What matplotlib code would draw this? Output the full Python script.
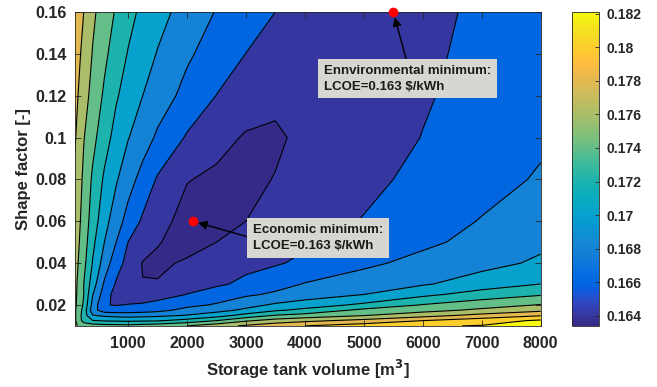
import numpy as np
import matplotlib
matplotlib.use("Agg")
import matplotlib.pyplot as plt
from matplotlib.colors import LinearSegmentedColormap, Normalize
from matplotlib.cm import ScalarMappable

# storage tank volume [m3] (columns) and shape factor [-] (rows)
volume = [100, 250, 400, 600, 800, 1000, 1250, 1500, 2000, 2500, 3000, 3500, 4000, 5000, 6000, 7000, 8000]
shape = [0.01, 0.0125, 0.015, 0.0175, 0.02, 0.025, 0.03, 0.04, 0.05, 0.06, 0.08, 0.10, 0.12, 0.14, 0.16]

# LCOE [$/kWh], one row per shape factor
lcoe = [
    [0.1763, 0.1752, 0.1750, 0.1748, 0.1747, 0.1746, 0.1749, 0.1752, 0.1760, 0.1772, 0.1783, 0.1793, 0.1800, 0.1810, 0.1818, 0.1821, 0.1833],
    [0.1763, 0.1732, 0.1721, 0.1718, 0.1717, 0.1716, 0.1717, 0.1718, 0.1727, 0.1740, 0.1757, 0.1768, 0.1775, 0.1786, 0.1800, 0.1811, 0.1823],
    [0.1763, 0.1730, 0.1701, 0.1696, 0.1693, 0.1692, 0.1693, 0.1695, 0.1701, 0.1711, 0.1727, 0.1741, 0.1747, 0.1759, 0.1772, 0.1786, 0.1798],
    [0.1763, 0.1733, 0.1688, 0.1669, 0.1668, 0.1669, 0.1671, 0.1674, 0.1686, 0.1693, 0.1704, 0.1717, 0.1725, 0.1745, 0.1753, 0.1764, 0.1775],
    [0.1764, 0.1737, 0.1694, 0.1661, 0.1659, 0.1661, 0.1663, 0.1669, 0.1675, 0.1682, 0.1693, 0.1703, 0.1710, 0.1724, 0.1741, 0.1751, 0.1761],
    [0.1765, 0.1740, 0.1701, 0.1670, 0.1652, 0.1646, 0.1646, 0.1648, 0.16605, 0.1669, 0.1677, 0.1683, 0.1689, 0.1700, 0.1715, 0.1729, 0.1738],
    [0.1766, 0.1740, 0.1710, 0.1677, 0.1658, 0.1645, 0.16405, 0.1641, 0.1650, 0.1657, 0.1664, 0.1673, 0.1681, 0.1690, 0.1698, 0.1709, 0.1720],
    [0.1768, 0.1746, 0.1719, 0.1691, 0.1668, 0.1654, 0.1639, 0.1637, 0.1642, 0.1647, 0.1655, 0.1658, 0.1664, 0.1676, 0.1686, 0.1694, 0.1703],
    [0.1770, 0.1750, 0.1725, 0.1700, 0.1680, 0.1660, 0.1651, 0.1641, 0.1634, 0.1640, 0.1645, 0.1652, 0.1657, 0.1665, 0.1676, 0.1686, 0.1696],
    [0.1773, 0.1752, 0.1731, 0.1707, 0.1689, 0.1673, 0.1657, 0.1648, 0.1632, 0.1634, 0.1640, 0.1646, 0.1651, 0.1661, 0.1671, 0.1681, 0.1691],
    [0.1777, 0.1756, 0.1737, 0.1717, 0.1702, 0.1688, 0.1673, 0.1658, 0.1641, 0.1636, 0.1637, 0.16405, 0.1646, 0.1655, 0.1665, 0.1673, 0.1682],
    [0.1782, 0.1761, 0.1746, 0.1728, 0.1713, 0.1701, 0.1689, 0.1677, 0.1658, 0.1647, 0.1638, 0.1638, 0.1643, 0.1650, 0.16605, 0.1670, 0.1677],
    [0.1786, 0.1769, 0.1753, 0.1737, 0.1722, 0.1712, 0.1700, 0.1690, 0.1674, 0.16597, 0.1651, 0.1643, 0.1642, 0.1645, 0.1658, 0.1667, 0.1674],
    [0.1789, 0.1775, 0.1759, 0.1744, 0.1731, 0.1719, 0.1709, 0.1699, 0.1683, 0.1671, 0.16598, 0.1653, 0.1648, 0.1644, 0.1657, 0.1664, 0.1671],
    [0.1795, 0.1780, 0.1764, 0.1750, 0.1738, 0.1727, 0.1715, 0.1707, 0.1692, 0.1679, 0.1670, 0.1660, 0.1653, 0.1646, 0.1654, 0.1664, 0.1668],
]

levels = [0.164, 0.166, 0.168, 0.170, 0.172, 0.174, 0.176, 0.178, 0.180, 0.182]
cbar_ticks = [0.164, 0.166, 0.168, 0.17, 0.172, 0.174, 0.176, 0.178, 0.18, 0.182]
clim = (0.1634, 0.1821)

# the two optima marked on the map
econ_min = (2100, 0.06)
env_min = (5500, 0.16)

# MATLAB parula (64 entries)
parula = [
    [0.2081, 0.1663, 0.5292], [0.2116, 0.1898, 0.5777], [0.2123, 0.2138, 0.6270], [0.2081, 0.2386, 0.6771],
    [0.1959, 0.2645, 0.7279], [0.1707, 0.2919, 0.7792], [0.1253, 0.3242, 0.8303], [0.0591, 0.3598, 0.8683],
    [0.0117, 0.3875, 0.8820], [0.0060, 0.4086, 0.8828], [0.0165, 0.4266, 0.8786], [0.0329, 0.4430, 0.8720],
    [0.0498, 0.4586, 0.8641], [0.0629, 0.4737, 0.8554], [0.0723, 0.4887, 0.8467], [0.0779, 0.5040, 0.8384],
    [0.0793, 0.5200, 0.8312], [0.0749, 0.5375, 0.8263], [0.0641, 0.5570, 0.8240], [0.0488, 0.5772, 0.8228],
    [0.0343, 0.5966, 0.8199], [0.0265, 0.6137, 0.8135], [0.0239, 0.6287, 0.8038], [0.0231, 0.6418, 0.7913],
    [0.0228, 0.6535, 0.7768], [0.0267, 0.6642, 0.7607], [0.0384, 0.6743, 0.7436], [0.0590, 0.6838, 0.7254],
    [0.0843, 0.6928, 0.7062], [0.1133, 0.7015, 0.6859], [0.1453, 0.7098, 0.6646], [0.1801, 0.7177, 0.6424],
    [0.2178, 0.7250, 0.6193], [0.2586, 0.7317, 0.5954], [0.3022, 0.7376, 0.5712], [0.3482, 0.7424, 0.5473],
    [0.3953, 0.7459, 0.5244], [0.4420, 0.7481, 0.5033], [0.4871, 0.7491, 0.4840], [0.5300, 0.7491, 0.4661],
    [0.5709, 0.7485, 0.4494], [0.6099, 0.7473, 0.4337], [0.6473, 0.7456, 0.4188], [0.6834, 0.7435, 0.4044],
    [0.7184, 0.7411, 0.3905], [0.7525, 0.7384, 0.3768], [0.7858, 0.7356, 0.3633], [0.8185, 0.7327, 0.3498],
    [0.8507, 0.7299, 0.3360], [0.8824, 0.7274, 0.3217], [0.9139, 0.7258, 0.3063], [0.9450, 0.7261, 0.2886],
    [0.9739, 0.7314, 0.2666], [0.9938, 0.7455, 0.2403], [0.9990, 0.7653, 0.2164], [0.9955, 0.7861, 0.1967],
    [0.9880, 0.8066, 0.1794], [0.9789, 0.8271, 0.1633], [0.9697, 0.8481, 0.1475], [0.9626, 0.8705, 0.1309],
    [0.9589, 0.8949, 0.1132], [0.9598, 0.9218, 0.0948], [0.9661, 0.9514, 0.0755], [0.9763, 0.9831, 0.0538],
]
cmap = LinearSegmentedColormap.from_list("parula", parula, N=256)
norm = Normalize(vmin=clim[0], vmax=clim[1])

plt.rcParams['font.family'] = ['Liberation Sans', 'DejaVu Sans']
plt.rcParams['font.weight'] = 'bold'
plt.rcParams['axes.labelweight'] = 'bold'
plt.rcParams['mathtext.default'] = 'bf'
txt = '#262626'

X, Y = np.meshgrid(volume, shape)
Z = np.array(lcoe)

fig = plt.figure(figsize=(6.57, 3.87), dpi=100)
ax = fig.add_axes([0.114, 0.158, 0.709, 0.811])
cax = fig.add_axes([0.871, 0.158, 0.041, 0.811])

# matlab fills each band with the colour of its lower level
fill_levels = [Z.min() - 0.001] + levels + [Z.max() + 0.001]
band_cols = [cmap(norm(max(l, clim[0]))) for l in fill_levels[:-1]]
ax.contourf(X, Y, Z, levels=fill_levels, colors=band_cols)
ax.contour(X, Y, Z, levels=levels, colors='k', linewidths=0.8)

ax.set_xlim(volume[0], volume[-1])
ax.set_ylim(shape[0], shape[-1])
ax.set_xticks([1000, 2000, 3000, 4000, 5000, 6000, 7000, 8000])
ax.set_yticks([0.02, 0.04, 0.06, 0.08, 0.1, 0.12, 0.14, 0.16])
ax.set_yticklabels(['0.02', '0.04', '0.06', '0.08', '0.1', '0.12', '0.14', '0.16'])
ax.tick_params(direction='in', length=4, width=0.6, top=True, right=True,
               labelsize=11.5, colors=txt)
ax.tick_params(axis='x', pad=7)
ax.tick_params(axis='y', pad=6)
for lab in ax.get_xticklabels() + ax.get_yticklabels():
    lab.set_fontweight('bold')
for s in ax.spines.values():
    s.set_color(txt)
    s.set_linewidth(0.6)
ax.set_xlabel('Storage tank volume [m$^3$]', fontsize=12, fontweight='bold', color=txt, labelpad=5)
ax.set_ylabel('Shape factor [-]', fontsize=12, fontweight='bold', color=txt, labelpad=3)

ax.plot(econ_min[0], econ_min[1], 'o', color='red', markersize=6, clip_on=False, zorder=5)
ax.plot(env_min[0], env_min[1], 'o', color='red', markersize=6, clip_on=False, zorder=5)

box = dict(boxstyle='square,pad=0.45', fc='#d8d6d0', ec='none')
arrow = dict(arrowstyle='-|>', color='black', lw=1.0, mutation_scale=13, shrinkA=0, shrinkB=4)
ax.annotate('Ennvironmental minimum:\nLCOE=0.163 \\$/kWh', xy=env_min, xytext=(5744, 0.1282),
            ha='center', va='center', multialignment='left', fontsize=9.5, fontweight='bold',
            color='#1a1a1a', linespacing=1.45,
            bbox=box, arrowprops=dict(arrow, relpos=(0.5, 1.0)), zorder=6)
ax.annotate('Economic minimum:\nLCOE=0.163 \\$/kWh', xy=econ_min, xytext=(4228, 0.0518),
            ha='center', va='center', multialignment='left', fontsize=9.5, fontweight='bold',
            color='#1a1a1a', linespacing=1.45,
            bbox=box, arrowprops=dict(arrow, relpos=(0.0, 0.5)), zorder=6)

sm = ScalarMappable(norm=norm, cmap=cmap)
cb = fig.colorbar(sm, cax=cax, ticks=cbar_ticks)
cb.ax.set_yticklabels([('%g' % t) for t in cbar_ticks], fontweight='bold')
cb.ax.tick_params(direction='in', length=3, width=0.6, labelsize=10, colors=txt, pad=5)
cb.outline.set_edgecolor(txt)
cb.outline.set_linewidth(0.6)

fig.savefig('out.png', dpi=100)
